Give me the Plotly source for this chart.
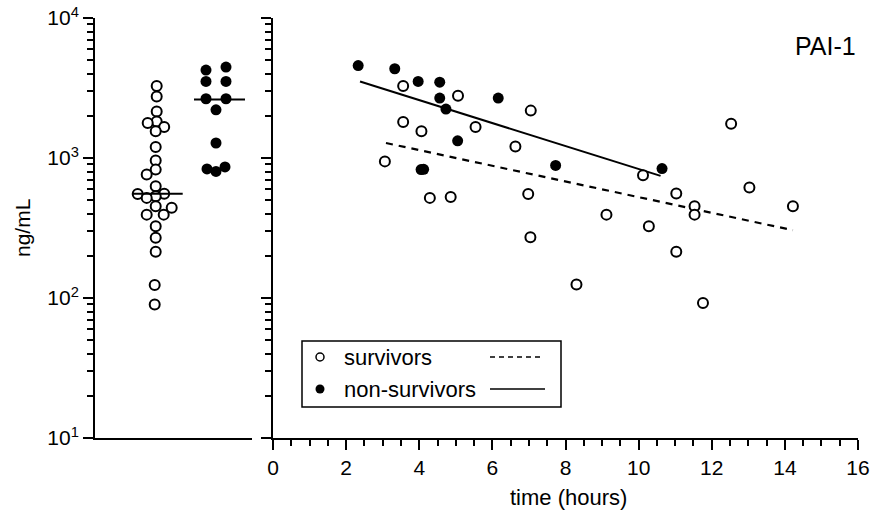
import plotly.graph_objects as go

# ---------------- data ----------------
# left panel: individual values (ng/mL)
left_surv_vals = [3270, 2750, 2150, 1825, 1775, 1665, 1550, 1197, 961, 826, 761, 629,
                  556, 554, 533, 519, 452, 441, 394, 394, 326, 269, 214, 124, 90]
left_nonsurv_vals = [4460, 4250, 3520, 3520, 2650, 2650, 2210, 1280, 836, 802, 863]
surv_median = 555
nonsurv_median = 2620

# right panel: time (hours) vs PAI-1 (ng/mL)
surv_t = [3.56, 5.06, 7.05, 3.56, 4.06, 5.54, 6.63, 3.06, 4.29, 4.86, 6.98, 7.04,
          9.12, 8.30, 10.12, 11.03, 12.53, 13.03, 11.53, 11.53, 14.22, 10.28, 11.03, 11.76]
surv_v = [3270, 2780, 2180, 1806, 1550, 1665, 1210, 946, 519, 527, 553, 272,
          394, 125, 752, 557, 1758, 616, 452, 394, 452, 326, 214, 92]
nonsurv_t = [2.33, 3.33, 3.97, 4.56, 4.56, 4.73, 6.16, 5.05, 4.05, 4.12, 7.73, 10.64]
nonsurv_v = [4570, 4340, 3520, 3480, 2680, 2235, 2680, 1327, 826, 830, 885, 840]

# regression lines (end points)
surv_fit_t = [3.09, 14.22]
surv_fit_v = [1280, 305]
nonsurv_fit_t = [2.38, 10.6]
nonsurv_fit_v = [3515, 745]

y_tickvals = [10, 100, 1000, 10000]
y_ticktext = ["10<sup>1</sup>", "10<sup>2</sup>", "10<sup>3</sup>", "10<sup>4</sup>"]
x_tickvals = [0, 2, 4, 6, 8, 10, 12, 14, 16]

# ---------------- layout helpers (positions, not data) ----------------
surv_center, nonsurv_center = 60.7, 121.0
surv_offsets = [1, 1, 1, 1, -8, 8.5, 0, 0, 0, 0, -9, 0, 8.5, -18, 0, -9, 0, 16, -9, 8, 0, 0, 0, -1, -1]
nonsurv_offsets = [10, -10, -10, 10, -10, 10, 0, 0, -9, 0, 9]

FONT = "Liberation Sans, Arial, Helvetica, sans-serif"
BLACK = "#000000"
FS = 21

minor_vals = []
for d in [10, 100, 1000]:
    for k in range(2, 10):
        minor_vals.append(k * d)

fig = go.Figure()

open_marker = dict(symbol="circle", size=10, color="white", line=dict(color=BLACK, width=2))
filled_marker = dict(symbol="circle", size=11, color=BLACK, line=dict(color=BLACK, width=0))

# left panel
fig.add_trace(go.Scatter(x=[surv_center + o for o in surv_offsets], y=left_surv_vals,
                         mode="markers", marker=open_marker, xaxis="x", yaxis="y", showlegend=False))
fig.add_trace(go.Scatter(x=[nonsurv_center + o for o in nonsurv_offsets], y=left_nonsurv_vals,
                         mode="markers", marker=filled_marker, xaxis="x", yaxis="y", showlegend=False))
fig.add_trace(go.Scatter(x=[surv_center - 23, surv_center + 27], y=[surv_median, surv_median],
                         mode="lines", line=dict(color=BLACK, width=2), xaxis="x", yaxis="y", showlegend=False))
fig.add_trace(go.Scatter(x=[nonsurv_center - 22, nonsurv_center + 29], y=[nonsurv_median, nonsurv_median],
                         mode="lines", line=dict(color=BLACK, width=2), xaxis="x", yaxis="y", showlegend=False))

# right panel
fig.add_trace(go.Scatter(x=surv_fit_t, y=surv_fit_v, mode="lines",
                         line=dict(color=BLACK, width=2.2, dash="7px,6px"), xaxis="x2", yaxis="y2", showlegend=False))
fig.add_trace(go.Scatter(x=nonsurv_fit_t, y=nonsurv_fit_v, mode="lines",
                         line=dict(color=BLACK, width=2), xaxis="x2", yaxis="y2", showlegend=False))
fig.add_trace(go.Scatter(x=surv_t, y=surv_v, mode="markers", marker=open_marker,
                         xaxis="x2", yaxis="y2", showlegend=False))
fig.add_trace(go.Scatter(x=nonsurv_t, y=nonsurv_v, mode="markers", marker=filled_marker,
                         xaxis="x2", yaxis="y2", showlegend=False))

# legend markers on a pixel-unit helper axis spanning the whole plot area
fig.add_trace(go.Scatter(x=[320], y=[357], mode="markers",
                         marker=dict(symbol="circle", size=8, color="white", line=dict(color=BLACK, width=1.5)),
                         xaxis="x3", yaxis="y3", showlegend=False, hoverinfo="skip"))
fig.add_trace(go.Scatter(x=[320], y=[389], mode="markers",
                         marker=dict(symbol="circle", size=9, color=BLACK),
                         xaxis="x3", yaxis="y3", showlegend=False, hoverinfo="skip"))

W, H = 871, 515
L, R, T, B = 95, 13, 18, 77
pw = W - L - R
ph = H - T - B

common_y = dict(type="log", range=[1, 4], showgrid=False, zeroline=False,
                showline=True, linecolor=BLACK, linewidth=2,
                ticks="outside", ticklen=10, tickwidth=2, tickcolor=BLACK,
                tickmode="array", tickvals=y_tickvals, automargin=False,
                minor=dict(tickmode="array", tickvals=minor_vals, ticks="outside",
                           ticklen=6, tickwidth=2, tickcolor=BLACK, showgrid=False))

fig.update_layout(
    width=W, height=H,
    margin=dict(l=L, r=R, t=T, b=B, pad=0, autoexpand=False),
    paper_bgcolor="white", plot_bgcolor="rgba(0,0,0,0)",
    font=dict(family=FONT, size=FS, color=BLACK),
    showlegend=False,
    xaxis=dict(domain=[0, 157 / pw], range=[0, 157], showgrid=False, zeroline=False,
               showline=True, linecolor=BLACK, linewidth=2, ticks="", showticklabels=False,
               anchor="y", automargin=False),
    yaxis=dict(**common_y, ticktext=y_ticktext, anchor="x", domain=[0, 1],
               tickfont=dict(family=FONT, size=FS, color=BLACK)),
    xaxis2=dict(domain=[178 / pw, 1], range=[0, 16], showgrid=False, zeroline=False,
                showline=True, linecolor=BLACK, linewidth=2,
                ticks="outside", ticklen=10, tickwidth=2, tickcolor=BLACK,
                tickmode="array", tickvals=x_tickvals, automargin=False,
                minor=dict(dtick=0.5, tick0=0, ticks="outside", ticklen=6, tickwidth=2,
                           tickcolor=BLACK, showgrid=False),
                tickfont=dict(family=FONT, size=FS, color=BLACK), anchor="y2"),
    yaxis2=dict(**common_y, showticklabels=False, anchor="x2", domain=[0, 1]),
    xaxis3=dict(domain=[0, 1], range=[L, W - R], visible=False, anchor="y3", fixedrange=True),
    yaxis3=dict(domain=[0, 1], range=[H - B, T], visible=False, anchor="x3", fixedrange=True),
)

# legend box and lines (pixel helper coordinates)
fig.add_shape(type="rect", xref="x3", yref="y3", x0=302, x1=561, y0=341, y1=407,
              line=dict(color=BLACK, width=1.5), fillcolor="rgba(0,0,0,0)")
fig.add_shape(type="line", xref="x3", yref="y3", x0=490, x1=543, y0=357, y1=357,
              line=dict(color=BLACK, width=1.5, dash="5px,4px"))
fig.add_shape(type="line", xref="x3", yref="y3", x0=490, x1=545, y0=389, y1=389,
              line=dict(color=BLACK, width=1.5))

ann = [
    dict(x=342, y=357, text="survivors", xanchor="left", yanchor="middle"),
    dict(x=342, y=389, text="non-survivors", xanchor="left", yanchor="middle"),
    dict(x=858, y=46, text="PAI-1", xanchor="right", yanchor="middle", font=dict(family=FONT, size=25, color=BLACK)),
]
for a in ann:
    fig.add_annotation(xref="x3", yref="y3", showarrow=False,
                       font=a.pop("font", dict(family=FONT, size=22, color=BLACK)), **a)

# axis titles in paper coordinates
fig.add_annotation(xref="paper", yref="paper", x=(568 - L) / pw, y=(H - B - 497) / ph,
                   text="time (hours)", showarrow=False, xanchor="center", yanchor="middle",
                   font=dict(family=FONT, size=22, color=BLACK))
fig.add_annotation(xref="paper", yref="paper", x=-(L - 22) / pw, y=0.5, text="ng/mL", textangle=-90,
                   showarrow=False, xanchor="center", yanchor="middle",
                   font=dict(family=FONT, size=FS, color=BLACK))

fig.write_html("out.html")
